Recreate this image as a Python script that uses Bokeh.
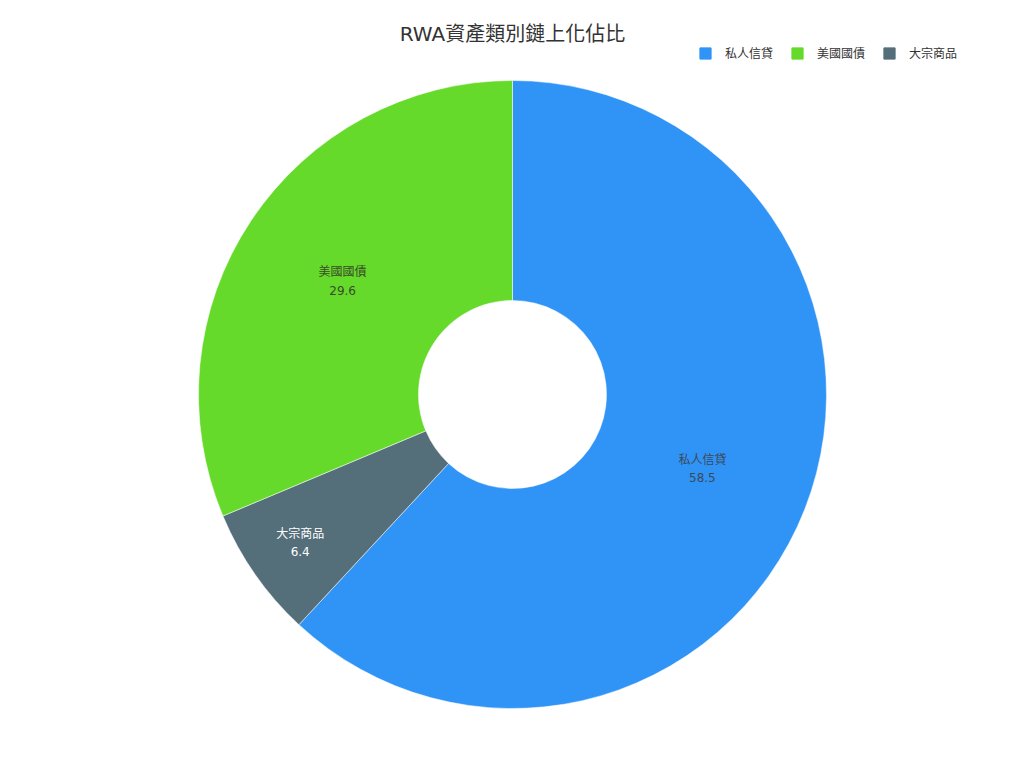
import math
from bokeh.plotting import figure
from bokeh.models import Range1d, ColumnDataSource, Legend, LegendItem
from bokeh.core.properties import value
from bokeh.embed import file_html
from bokeh.resources import INLINE

# ---- data ----
title_text = "RWA資產類別鏈上化佔比"
categories = ["私人信貸", "美國國債", "大宗商品"]
values = [58.5, 29.6, 6.4]
colors = ["#3094F6", "#66DA2A", "#546E7A"]
label_colors = ["#3b4a5a", "#3a4a2a", "#ffffff"]
draw_order = [0, 2, 1]          # clockwise from 12 o'clock
label_pos = [0.5, 0.5, 0.75]    # radial position of label within ring (0=inner, 1=outer)

W, H = 1008, 752
CX, CY = 512, H - 394
R_OUT, R_IN = 314, 94
FONT = "DejaVu Sans, Noto Sans CJK TC, sans-serif"

total = sum(values)
start, end, lx, ly, ltxt, lcol, col, name = [], [], [], [], [], [], [], []
ang = math.pi / 2
for i in draw_order:
    sweep = values[i] / total * 2 * math.pi
    a0, a1 = ang, ang - sweep
    start.append(a1)
    end.append(a0)
    mid = (a0 + a1) / 2
    r = R_IN + (R_OUT - R_IN) * label_pos[i]
    lx.append(CX + r * math.cos(mid))
    ly.append(CY + r * math.sin(mid))
    ltxt.append(f"{categories[i]}\n{values[i]}")
    lcol.append(label_colors[i])
    col.append(colors[i])
    name.append(categories[i])
    ang = a1

src = ColumnDataSource(dict(start=start, end=end, color=col, name=name))
lsrc = ColumnDataSource(dict(x=lx, y=ly, text=ltxt, color=lcol))

p = figure(width=W, height=H, output_backend="svg", toolbar_location=None,
           x_range=Range1d(0, W), y_range=Range1d(0, H),
           x_axis_location=None, y_axis_location=None, min_border=0,
           outline_line_color=None, background_fill_color="white")
p.grid.visible = False

p.annular_wedge(x=CX, y=CY, inner_radius=R_IN, outer_radius=R_OUT,
                start_angle="start", end_angle="end", color="color",
                line_color="white", line_width=0.5, source=src)

p.text(x="x", y="y", text="text", text_color="color", source=lsrc,
       text_align="center", text_baseline="middle", text_font=value(FONT),
       text_font_size="12px", text_line_height=1.3)

p.text(x=[CX], y=[H - 33], text=[title_text], text_align="center",
       text_baseline="middle", text_font=value(FONT), text_font_size="20px",
       text_color="#333333")

# legend with square swatches (off-canvas dummy quads)
items = []
for i, c in enumerate(categories):
    r = p.quad(left=[-1000], right=[-990], bottom=[-1000], top=[-990],
               color=colors[i])
    items.append(LegendItem(label=c, renderers=[r]))
legend = Legend(items=items, orientation="horizontal", location=(698, 691),
                glyph_width=14, glyph_height=14, label_standoff=13, spacing=17,
                padding=0, margin=0, border_line_color=None,
                background_fill_alpha=0, label_text_font=FONT,
                label_text_font_size="12px", label_text_color="#333333",
                label_height=14)
p.add_layout(legend)

open("out.html", "w").write(file_html(p, INLINE))
